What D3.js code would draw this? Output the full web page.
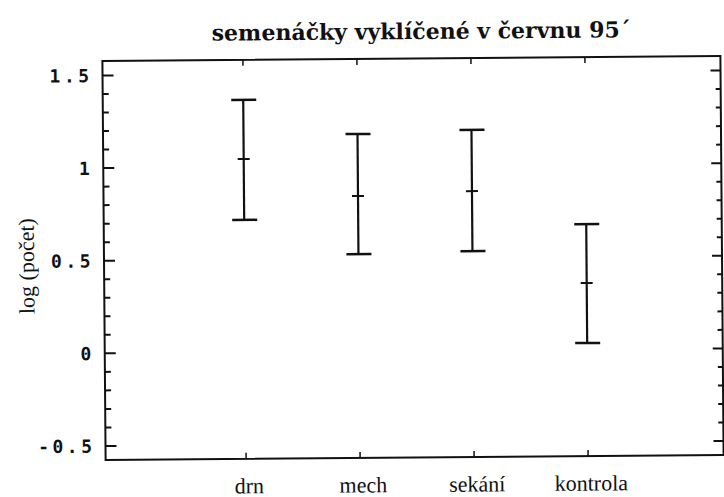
<!DOCTYPE html>
<html>
<head>
<meta charset="utf-8">
<script src="https://cdn.jsdelivr.net/npm/d3@7"></script>
<style>
  html, body { margin: 0; padding: 0; background: #fff; }
  svg { display: block; }
</style>
</head>
<body>
<script>
// ---- data ----
const categories = ["drn", "mech", "sekání", "kontrola"];
const lowValues  = [0.714, 0.525, 0.536, 0.035];
const meanValues = [1.043, 0.838, 0.860, 0.359];
const highValues = [1.362, 1.173, 1.190, 0.677];
const majorTicks = [-0.5, 0, 0.5, 1, 1.5];
const tickLabels = ["-0.5", "0", "0.5", "1", "1.5"];
const titleText = "semenáčky vyklíčené v červnu 95´";
const yTitle = "log (počet)";

const W = 724, H = 497;
const frame = { left: 104, right: 722, top: 58.5, bottom: 457.5 };
const serif = "'Liberation Serif', 'Times New Roman', Times, serif";

const svg = d3.select("body").append("svg").attr("width", W).attr("height", H);
const g = svg.append("g").attr("transform", "rotate(-0.46 413 258)");

const y = d3.scaleLinear().domain([-0.5, 1.5]).range([443.5, 73]);
const x = d3.scalePoint().domain(categories).range([244.5, 586.5]);

const minorTicks = d3.range(-5, 16).map(i => i / 10).filter(v => !majorTicks.some(m => Math.abs(m - v) < 1e-9));

// frame
g.append("rect")
  .attr("x", frame.left).attr("y", frame.top)
  .attr("width", frame.right - frame.left).attr("height", frame.bottom - frame.top)
  .attr("fill", "none").attr("stroke", "#111").attr("stroke-width", 2);

// left ticks
g.selectAll(".lmaj").data(majorTicks).join("line")
  .attr("x1", frame.left).attr("x2", frame.left + 11)
  .attr("y1", d => y(d)).attr("y2", d => y(d))
  .attr("stroke", "#111").attr("stroke-width", 2);
g.selectAll(".lmin").data(minorTicks).join("line")
  .attr("x1", frame.left).attr("x2", frame.left + 6)
  .attr("y1", d => y(d)).attr("y2", d => y(d))
  .attr("stroke", "#111").attr("stroke-width", 2);
// right ticks
g.selectAll(".rmaj").data(majorTicks).join("line")
  .attr("x1", frame.right).attr("x2", frame.right - 10)
  .attr("y1", d => y(d)).attr("y2", d => y(d))
  .attr("stroke", "#111").attr("stroke-width", 2);
g.selectAll(".rmin").data(minorTicks).join("line")
  .attr("x1", frame.right).attr("x2", frame.right - 5)
  .attr("y1", d => y(d)).attr("y2", d => y(d))
  .attr("stroke", "#111").attr("stroke-width", 2);
// top & bottom ticks
g.selectAll(".tt").data(categories).join("line")
  .attr("x1", d => x(d)).attr("x2", d => x(d))
  .attr("y1", frame.top).attr("y2", frame.top + 6)
  .attr("stroke", "#111").attr("stroke-width", 1.5);
g.selectAll(".bt").data(categories).join("line")
  .attr("x1", d => x(d)).attr("x2", d => x(d))
  .attr("y1", frame.bottom).attr("y2", frame.bottom - 6)
  .attr("stroke", "#111").attr("stroke-width", 1.5);

// y tick labels
g.selectAll(".yl").data(majorTicks).join("text")
  .attr("x", 94).attr("y", d => y(d)).attr("dy", "0.37em")
  .attr("text-anchor", "end")
  .attr("font-family", "'DejaVu Sans Mono', monospace").attr("font-weight", "bold")
  .attr("font-size", 18).attr("letter-spacing", 3.5)
  .attr("fill", "#111")
  .text((d, i) => tickLabels[i]);

// y title
g.append("text")
  .attr("transform", "translate(34,263) rotate(-90)")
  .attr("text-anchor", "middle")
  .attr("font-family", serif).attr("font-size", 22)
  .attr("fill", "#111")
  .text(yTitle);

// x labels
g.selectAll(".xl").data(categories).join("text")
  .attr("x", d => x(d) + 3).attr("y", 492)
  .attr("text-anchor", "middle")
  .attr("font-family", serif).attr("font-size", 22)
  .attr("fill", "#111")
  .text(d => d);

// title
g.append("text")
  .attr("x", 423).attr("y", 39)
  .attr("text-anchor", "middle")
  .attr("font-family", "'DejaVu Serif', serif").attr("font-weight", "bold")
  .attr("font-size", 22)
  .attr("fill", "#111")
  .text(titleText);

// error bars
const bars = g.selectAll(".bar").data(categories).join("g");
bars.append("line")
  .attr("x1", d => x(d)).attr("x2", d => x(d))
  .attr("y1", (d, i) => y(highValues[i])).attr("y2", (d, i) => y(lowValues[i]))
  .attr("stroke", "#111").attr("stroke-width", 2.2);
bars.append("line")
  .attr("x1", d => x(d) - 12).attr("x2", d => x(d) + 13)
  .attr("y1", (d, i) => y(highValues[i])).attr("y2", (d, i) => y(highValues[i]))
  .attr("stroke", "#111").attr("stroke-width", 2.5);
bars.append("line")
  .attr("x1", d => x(d) - 12).attr("x2", d => x(d) + 13)
  .attr("y1", (d, i) => y(lowValues[i])).attr("y2", (d, i) => y(lowValues[i]))
  .attr("stroke", "#111").attr("stroke-width", 2.5);
bars.append("line")
  .attr("x1", d => x(d) - 6).attr("x2", d => x(d) + 6)
  .attr("y1", (d, i) => y(meanValues[i])).attr("y2", (d, i) => y(meanValues[i]))
  .attr("stroke", "#111").attr("stroke-width", 2);
</script>
</body>
</html>
